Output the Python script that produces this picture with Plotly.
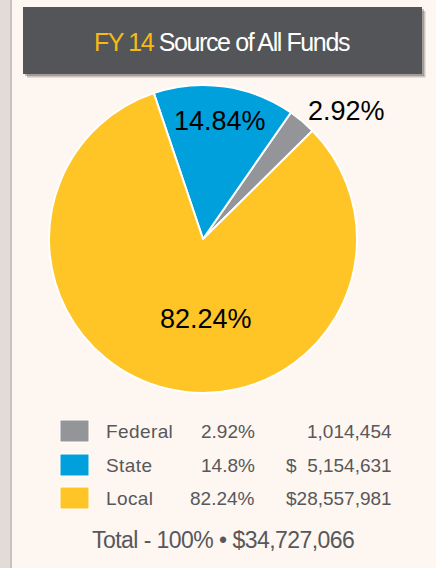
import plotly.graph_objects as go

# ---- data ----
categories = ["Federal", "State", "Local"]
amounts = [1014454, 5154631, 28557981]
slice_labels = ["2.92%", "14.84%", "82.24%"]
legend_pcts = ["2.92%", "14.8%", "82.24%"]
legend_amounts = ["1,014,454", "$\u20075,154,631", "$28,557,981"]
colors = ["#939598", "#00a0dc", "#ffc425"]
title_year = "FY 14"
title_rest = "Source of All Funds"
total_text = "Total - 100% \u2022 $34,727,066"

W, H = 436, 568
BG = "#fdf6f1"
TXT = "#58585a"
LABEL_FONT = dict(family="Liberation Sans, Arial, Helvetica", size=27, color="#000000")


def px(x):
    return x / W


def py(y):
    return 1 - y / H


fig = go.Figure()
fig.add_trace(go.Pie(
    labels=categories,
    values=amounts,
    text=slice_labels,
    textinfo="none",
    marker=dict(colors=colors, line=dict(color="white", width=2)),
    sort=False,
    direction="counterclockwise",
    rotation=34.8,
    showlegend=False,
    hoverinfo="skip",
    domain=dict(x=[px(49), px(357)], y=[py(393), py(85)]),
))

shapes = []
annotations = []

# left stripe
shapes.append(dict(type="rect", xref="paper", yref="paper", x0=0, x1=px(10), y0=0, y1=1,
                   fillcolor="#e2dbd7", line=dict(width=0), layer="below"))
shapes.append(dict(type="rect", xref="paper", yref="paper", x0=px(10), x1=px(12), y0=0, y1=1,
                   fillcolor="#c9c1bc", line=dict(width=0), layer="below"))
# title box shadow + box
shapes.append(dict(type="rect", xref="paper", yref="paper", x0=px(27), x1=px(425.5), y0=py(77.5), y1=py(11),
                   fillcolor="rgba(90,80,75,0.30)", line=dict(width=0), layer="below"))
shapes.append(dict(type="rect", xref="paper", yref="paper", x0=px(25), x1=px(424), y0=py(76), y1=py(9),
                   fillcolor="rgba(90,80,75,0.35)", line=dict(width=0), layer="below"))
shapes.append(dict(type="rect", xref="paper", yref="paper", x0=px(23), x1=px(422), y0=py(74), y1=py(7),
                   fillcolor="#545559", line=dict(width=0), layer="below"))

annotations.append(dict(
    xref="paper", yref="paper", x=px(222), y=py(42), xanchor="center", yanchor="middle",
    text=(f"<span style='letter-spacing:-1.4px'><span style='color:#f6b915'>{title_year}</span>"
          f" {title_rest}</span>"),
    showarrow=False, font=dict(family="Liberation Sans, Arial", size=25, color="white"),
))

# slice labels
label_pos = [(346, 111), (220, 121), (206, 319)]
for lab, (lx, ly) in zip(slice_labels, label_pos):
    annotations.append(dict(
        xref="paper", yref="paper", x=px(lx), y=py(ly), xanchor="center", yanchor="middle",
        text=lab, showarrow=False, font=LABEL_FONT,
    ))

# legend table
row_y = [431, 465, 498]
for i, cat in enumerate(categories):
    y = row_y[i]
    shapes.append(dict(type="rect", xref="paper", yref="paper", x0=px(60), x1=px(89),
                       y0=py(y + 11), y1=py(y - 11), fillcolor=colors[i],
                       line=dict(color="white", width=1)))
    f = dict(family="Liberation Sans, Arial", size=19, color=TXT)
    annotations.append(dict(xref="paper", yref="paper", x=px(104), y=py(y), xanchor="left", yanchor="middle",
                            text=f"<span style='letter-spacing:0.4px'>{cat}</span>", showarrow=False, font=f))
    annotations.append(dict(xref="paper", yref="paper", x=px(257), y=py(y), xanchor="right", yanchor="middle",
                            text=legend_pcts[i], showarrow=False, font=f))
    annotations.append(dict(xref="paper", yref="paper", x=px(394), y=py(y), xanchor="right", yanchor="middle",
                            text=legend_amounts[i], showarrow=False, font=f))

annotations.append(dict(
    xref="paper", yref="paper", x=px(223), y=py(540), xanchor="center", yanchor="middle",
    text=f"<span style='letter-spacing:-0.55px'>{total_text}</span>", showarrow=False,
    font=dict(family="Liberation Sans, Arial", size=23, color=TXT),
))

fig.update_layout(
    width=W, height=H,
    margin=dict(l=0, r=0, t=0, b=0),
    paper_bgcolor=BG, plot_bgcolor=BG,
    shapes=shapes, annotations=annotations,
)

fig.write_html("out.html", config={"displayModeBar": False},
               post_script="document.body.style.margin='0';")
